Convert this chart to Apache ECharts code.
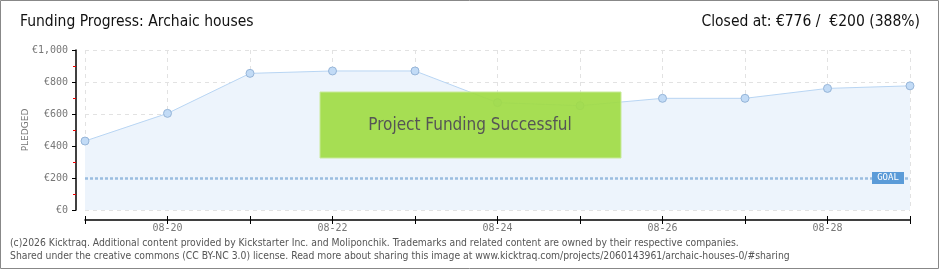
<!DOCTYPE html>
<html><head><meta charset="utf-8">
<script src="https://cdn.jsdelivr.net/npm/echarts@6/dist/echarts.min.js"></script>
<style>html,body{margin:0;padding:0;background:#fff}#c{width:940px;height:270px}</style>
</head><body><div id="c"></div>
<script>
const categories = ['08-19','08-20','08-21','08-22','08-23','08-24','08-25','08-26','08-27','08-28','08-29'];
const pledged = [431, 604, 854, 869, 869, 671, 652, 698, 698, 760, 776];
const goal = 200;
const yTicks = [0, 200, 400, 600, 800, 1000];
const titleText = 'Funding Progress: Archaic houses';
const closedText = 'Closed at: €776 /  €200 (388%)';
const bannerText = 'Project Funding Successful';
const footer1 = '(c)2026 Kicktraq. Additional content provided by Kickstarter Inc. and Moliponchik. Trademarks and related content are owned by their respective companies.';
const footer2 = 'Shared under the creative commons (CC BY-NC 3.0) license. Read more about sharing this image at www.kicktraq.com/projects/2060143961/archaic-houses-0/#sharing';

const chart = echarts.init(document.getElementById('c'), null, {renderer:'canvas'});
const narrow = '"DejaVu Sans Condensed",sans-serif';
const fmt = v => '€' + v.toLocaleString('en-US');
chart.setOption({
  animation:false,
  grid:{left:85,right:30,top:50,bottom:60},
  xAxis:[{
    type:'category', data:categories, boundaryGap:false, offset:10,
    axisLine:{onZero:false,lineStyle:{color:'#000',width:1.5}},
    axisTick:{show:true,length:4,interval:0,lineStyle:{color:'#000'}},
    axisLabel:{interval:(i)=>i%2===1, color:'#777', fontSize:10, margin:3, fontFamily:'"DejaVu Sans Mono",monospace'},
    splitLine:{show:true,interval:0,lineStyle:{color:'#e2e2e2',type:[4,4]}}
  },{
    type:'category', data:categories, boundaryGap:false, offset:10, position:'bottom',
    axisLine:{show:false,onZero:false},
    axisTick:{show:true,inside:true,length:4,interval:0,lineStyle:{color:'#000'}},
    axisLabel:{show:false}, splitLine:{show:false}
  }],
  yAxis:{
    type:'value', min:0, max:1000, interval:200, offset:9,
    name:'PLEDGED', nameLocation:'middle', nameGap:46, nameRotate:90, nameMoveOverlap:false,
    nameTextStyle:{color:'#777',fontSize:9,fontFamily:'"DejaVu Sans",sans-serif'},
    axisLine:{show:true,lineStyle:{color:'#000',width:1.5}},
    axisTick:{show:true,length:4,lineStyle:{color:'#000'}},
    minorTick:{show:true,splitNumber:2,length:3,lineStyle:{color:'#e00'}},
    axisLabel:{formatter:v=>yTicks.includes(v)?fmt(v):'', color:'#777', fontSize:10, margin:8, fontFamily:'"DejaVu Sans Mono",monospace'},
    splitLine:{show:true,lineStyle:{color:'#e2e2e2',type:[4,4]}}
  },
  series:[{
    type:'line', data:pledged, symbol:'circle', symbolSize:8,
    lineStyle:{color:'#b8d5f3',width:1},
    itemStyle:{color:'#c2dbf6',borderColor:'#96b5d8',borderWidth:1},
    areaStyle:{color:'#edf4fc',opacity:1},
    markLine:{silent:true,symbol:'none',data:[{yAxis:goal}],
      lineStyle:{color:'#9bbde0',width:2.5,type:[3,2]},label:{show:false}},
    markPoint:{silent:true,symbol:'rect',symbolSize:[32,12],symbolOffset:[-22,0],
      data:[{coord:[categories.length-1,goal]}],
      itemStyle:{color:'#5b9bd8'},
      label:{show:true,formatter:'GOAL',color:'#fff',fontSize:9,fontFamily:'"DejaVu Sans Mono",monospace'}}
  }],
  graphic:[
    {type:'rect',shape:{x:0.5,y:0.5,width:938,height:268},style:{fill:'none',stroke:'#888',lineWidth:1},z:100},
    {type:'text',left:20,top:14,style:{text:titleText,fill:'#111',fontSize:15.5,fontFamily:narrow}},
    {type:'text',right:20,top:14,style:{text:closedText,fill:'#111',fontSize:15.5,fontFamily:narrow}},
    {type:'rect',shape:{x:320,y:92,width:301,height:66},style:{fill:'rgba(160,220,70,0.93)',stroke:'#c8ea9a',lineWidth:1},z:50},
    {type:'text',x:470,y:126,style:{text:bannerText,fill:'#555',fontSize:17,fontFamily:narrow,align:'center',verticalAlign:'middle',textShadowColor:'#fff',textShadowOffsetX:1,textShadowOffsetY:1},z:51},
    {type:'text',left:10,top:238,style:{text:footer1,fill:'#555',fontSize:10.3,fontFamily:'"DejaVu Sans Condensed",sans-serif'}},
    {type:'text',left:10,top:251,style:{text:footer2,fill:'#555',fontSize:10.3,fontFamily:'"DejaVu Sans Condensed",sans-serif'}}
  ]
});
</script></body></html>
